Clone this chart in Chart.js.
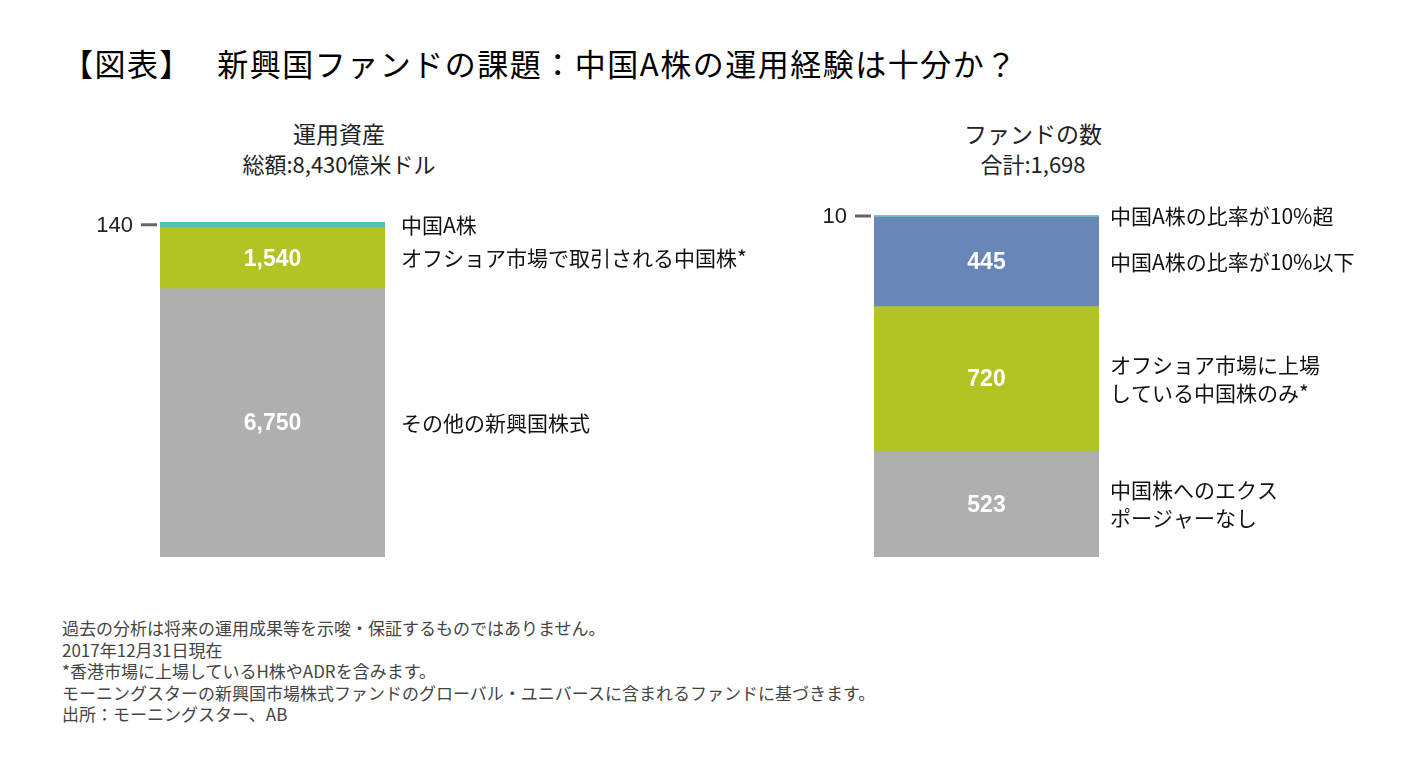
<!DOCTYPE html>
<html>
<head>
<meta charset="utf-8">
<script src="https://cdn.jsdelivr.net/npm/chart.js@4"></script>
<style>
  body { margin: 0; background: #fff; width: 1425px; height: 767px; position: relative; overflow: hidden;
         font-family: "Noto Sans CJK JP", "Liberation Sans", sans-serif; }
  .t { position: absolute; white-space: nowrap; }
  #title { left: 62px; top: 43px; font-size: 31px; line-height: 40px; letter-spacing: 1.5px; color: #000; }
  .sub1 { font-size: 23px; line-height: 30px; color: #222; transform: translateX(-50%); }
  .sub2 { font-size: 22px; line-height: 30px; color: #222; transform: translateX(-50%); }
  #notes { left: 62px; top: 617px; font-size: 17px; line-height: 21.5px; color: #444; }
  canvas { position: absolute; }
</style>
</head>
<body>
<div class="t" id="title">【図表】&nbsp;&nbsp;&nbsp;新興国ファンドの課題：中国A株の運用経験は十分か？</div>
<div class="t sub1" style="left:339px; top:118px;">運用資産</div>
<div class="t sub2" style="left:339px; top:148px;">総額:8,430億米ドル</div>
<div class="t sub1" style="left:1033px; top:118px;">ファンドの数</div>
<div class="t sub2" style="left:1033px; top:148px;">合計:1,698</div>
<div class="t" id="notes">過去の分析は将来の運用成果等を示唆・保証するものではありません。<br>2017年12月31日現在<br>*香港市場に上場しているH株やADRを含みます。<br>モーニングスターの新興国市場株式ファンドのグローバル・ユニバースに含まれるファンドに基づきます。<br>出所：モーニングスター、AB</div>

<canvas id="assetChart" width="700" height="380" style="left:60px; top:200px;"></canvas>
<canvas id="fundChart" width="640" height="380" style="left:780px; top:200px;"></canvas>

<script>
// 運用資産（億米ドル）、下から順に
const assetLabels = [["その他の新興国株式"], ["オフショア市場で取引される中国株*"], ["中国A株"]];
const assetValues = [6750, 1540, 140];
const assetColors = ["#afafaf", "#b2c424", "#52c0b0"];

// ファンドの数、下から順に
const fundLabels = [["中国株へのエクス", "ポージャーなし"], ["オフショア市場に上場", "している中国株のみ*"], ["中国A株の比率が10%以下"], ["中国A株の比率が10%超"]];
const fundValues = [523, 720, 445, 10];
const fundColors = ["#afafaf", "#b2c424", "#6886b8", "#6fcac0"];

const segmentText = {
    id: "segmentText",
    afterDatasetsDraw(chart, args, opts) {
        const ctx = chart.ctx;
        const area = chart.chartArea;
        const yScale = chart.scales.y;
        const sets = chart.data.datasets;
        const gap = opts.gap || 14;
        let base = 0;
        ctx.save();
        sets.forEach(function(ds, i) {
            const v = ds.data[0];
            const yTop = yScale.getPixelForValue(base + v);
            const yBot = yScale.getPixelForValue(base);
            const yMid = (yTop + yBot) / 2;
            base += v;
            // 右側のラベル
            ctx.fillStyle = "#111";
            ctx.font = "21px 'Noto Sans CJK JP'";
            ctx.textAlign = "left";
            ctx.textBaseline = "middle";
            const lines = ds.label;
            lines.forEach(function(line, k) {
                ctx.fillText(line, area.right + gap, yMid + (k - (lines.length - 1) / 2) * 28);
            });
            if (i === sets.length - 1) {
                // 一番上の小さい部分は左側に値を表示
                ctx.fillStyle = "#666";
                ctx.fillRect(area.left - 19, yMid - 1.5, 16, 3);
                ctx.fillStyle = "#222";
                ctx.font = "22px 'Liberation Sans'";
                ctx.textAlign = "right";
                ctx.fillText(v.toLocaleString("en-US"), area.left - 27, yMid + 1);
            } else {
                ctx.fillStyle = "#fff";
                ctx.font = "bold 23px 'Liberation Sans'";
                ctx.textAlign = "center";
                ctx.fillText(v.toLocaleString("en-US"), (area.left + area.right) / 2, yMid + 1);
            }
        });
        ctx.restore();
    }
};

function makeStack(id, labels, values, colors, padding, gap) {
    const total = values.reduce(function(a, b) { return a + b; }, 0);
    return new Chart(document.getElementById(id), {
        type: "bar",
        data: {
            labels: [""],
            datasets: values.map(function(v, i) {
                return {
                    label: labels[i],
                    data: [v],
                    backgroundColor: colors[i],
                    borderWidth: 0,
                    barPercentage: 1,
                    categoryPercentage: 1
                };
            })
        },
        options: {
            responsive: false,
            animation: false,
            layout: { padding: padding },
            plugins: {
                legend: { display: false },
                tooltip: { enabled: false },
                title: { display: false },
                segmentText: { gap: gap }
            },
            scales: {
                x: { stacked: true, display: false },
                y: { stacked: true, display: false, min: 0, max: total }
            }
        },
        plugins: [segmentText]
    });
}

makeStack("assetChart", assetLabels, assetValues, assetColors, { left: 100, right: 375, top: 22, bottom: 23 }, 16);
makeStack("fundChart", fundLabels, fundValues, fundColors, { left: 94, right: 321, top: 15, bottom: 23 }, 11);
</script>
</body>
</html>
